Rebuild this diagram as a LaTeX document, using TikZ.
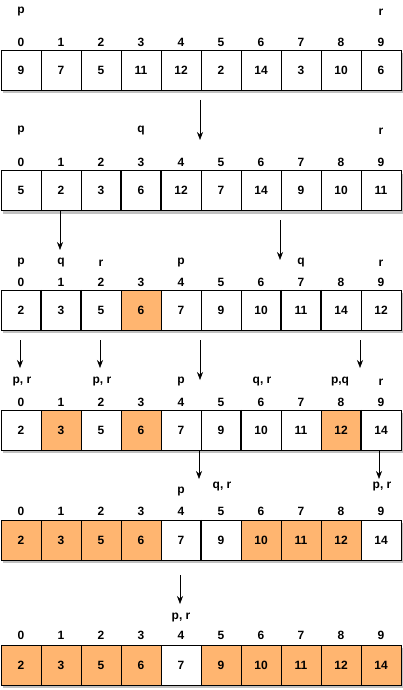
\documentclass[tikz,border=0pt]{standalone}
\usepackage{fontspec}
\setmainfont{Liberation Sans}
\usetikzlibrary{positioning,shadows,arrows.meta}
\definecolor{done}{HTML}{FFB570}

\tikzset{
  cell/.style={rectangle,draw,minimum width=40pt,minimum height=40pt,inner sep=0pt,
    font=\bfseries\fontsize{12}{14}\selectfont,
    drop shadow={shadow xshift=2pt,shadow yshift=-3pt,opacity=0.35,fill=black!70}},
  idx/.style={inner sep=0pt,font=\bfseries\fontsize{12}{14}\selectfont},
  sep/.style={line width=2.6pt},
  move/.style={-{Stealth[length=8pt,width=6pt]},line width=0.6pt}
}

\begin{document}
\begin{tikzpicture}[x=1pt,y=-1pt]
  \useasboundingbox (0,0) rectangle (403,690);
  % first array
  \foreach \v/\f [count=\i from 0] in {9/white,7/white,5/white,11/white,12/white,2/white,14/white,3/white,10/white,6/white}
    \node[cell,fill=\f] (a\i) at (21+40*\i,70) {\v};
  \foreach \i in {0,...,9}
    \node[idx] (ia\i) at (21+40*\i,42) {\i};
  \node[idx] (pa) at (21,12) {p};
  \node[idx] (ra) at (381,12) {r};
  % second array
  \foreach \v/\f [count=\i from 0] in {5/white,2/white,3/white,6/white,12/white,7/white,14/white,9/white,10/white,11/white}
    \node[cell,fill=\f] (b\i) at (21+40*\i,190.5) {\v};
  \foreach \i in {0,...,9}
    \node[idx] (ib\i) at (21+40*\i,162) {\i};
  \node[idx] (pb) at (21,131) {p};
  \node[idx] (qb) at (141,131) {q};
  \node[idx] (rb) at (381,131) {r};
  \foreach \i in {3,4}
    \draw[sep] (b\i.north west) -- (b\i.south west);
  % third array
  \foreach \v/\f [count=\i from 0] in {2/white,3/white,5/white,6/done,7/white,9/white,10/white,11/white,14/white,12/white}
    \node[cell,fill=\f] (c\i) at (21+40*\i,310) {\v};
  \foreach \i in {0,...,9}
    \node[idx] (ic\i) at (21+40*\i,282) {\i};
  \foreach \t/\i in {p/0,q/1,r/2,p/4,q/7,r/9}
    \node[idx] (l\i c) at (21+40*\i,263) {\t};
  \foreach \i in {1,2,7,8}
    \draw[sep] (c\i.north west) -- (c\i.south west);
  % fourth array
  \foreach \v/\f [count=\i from 0] in {2/white,3/done,5/white,6/done,7/white,9/white,10/white,11/white,12/done,14/white}
    \node[cell,fill=\f] (d\i) at (21+40*\i,430) {\v};
  \foreach \i in {0,...,9}
    \node[idx] (id\i) at (21+40*\i,402) {\i};
  \node[idx] (pd0) at (22,382) {p, r};
  \node[idx] (pd2) at (102,382) {p, r};
  \node[idx] (pd4) at (181,382) {p};
  \node[idx] (qd6) at (262,382) {q, r};
  \node[idx] (pd8) at (340,382) {p,q};
  \node[idx] (rd9) at (381,382) {r};
  \foreach \i in {6,9}
    \draw[sep] (d\i.north west) -- (d\i.south west);
  % fifth array
  \foreach \v/\f [count=\i from 0] in {2/done,3/done,5/done,6/done,7/white,9/white,10/done,11/done,12/done,14/white}
    \node[cell,fill=\f] (e\i) at (21+40*\i,540) {\v};
  \foreach \i in {0,...,9}
    \node[idx] (ie\i) at (21+40*\i,511) {\i};
  \node[idx] (pe4) at (181,492) {p};
  \node[idx] (qe5) at (222,487) {q, r};
  \node[idx] (pe9) at (382,487) {p, r};
  \draw[sep] (e5.north west) -- (e5.south west);
  % last array
  \foreach \v/\f [count=\i from 0] in {2/done,3/done,5/done,6/done,7/white,9/done,10/done,11/done,12/done,14/done}
    \node[cell,fill=\f] (f\i) at (21+40*\i,665) {\v};
  \foreach \i in {0,...,9}
    \node[idx] (if\i) at (21+40*\i,635) {\i};
  \node[idx] (pf4) at (181,617) {p, r};
  % steps
  \foreach \x/\ya/\yb [count=\k] in {200/100/140,60/211/250,280/220/260,20/340/368,100/340/368,200/340/380,360/340/368,199/450/479,379/450/479,180/575/604} {
    \coordinate (s\k) at (\x,\ya);
    \coordinate (t\k) at (\x,\yb);
    \draw[move] (s\k) -- (t\k);
  }
\end{tikzpicture}
\end{document}
